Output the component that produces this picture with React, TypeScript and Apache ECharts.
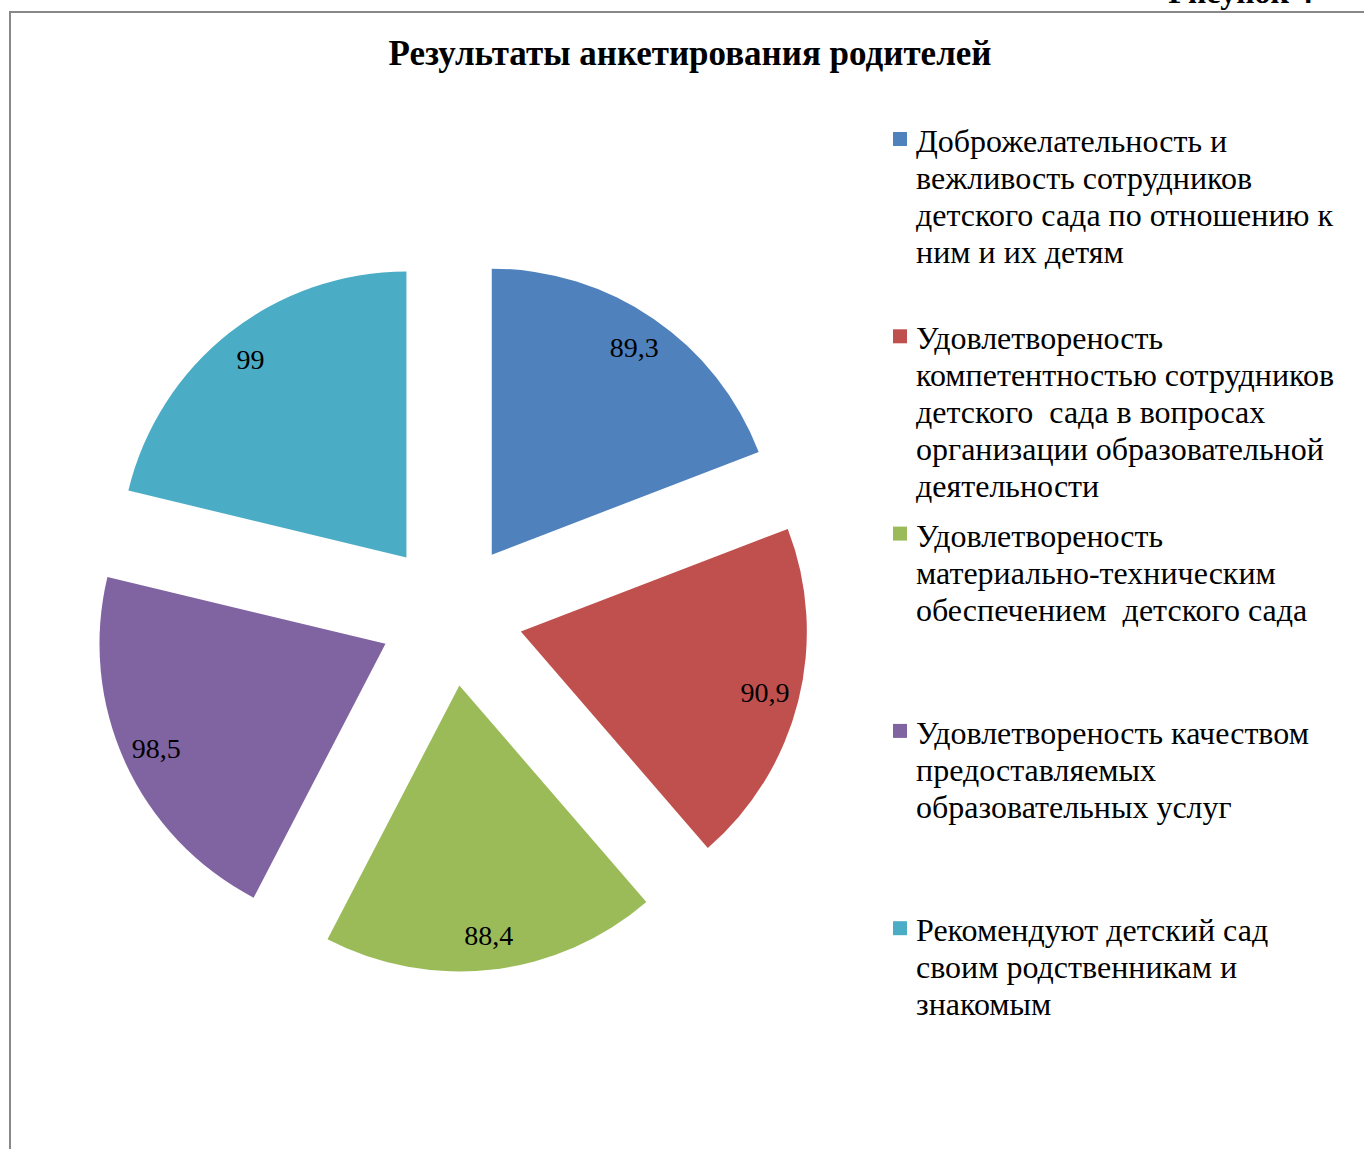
import React, { useEffect, useRef } from "react";
import * as echarts from "echarts";

const categories = [
  "Доброжелательность и вежливость сотрудников детского сада по отношению к ним и их детям",
  "Удовлетвореность компетентностью сотрудников детского  сада в вопросах организации образовательной деятельности",
  "Удовлетвореность материально-техническим обеспечением  детского сада",
  "Удовлетвореность качеством предоставляемых образовательных услуг",
  "Рекомендуют детский сад своим родственникам и знакомым",
];
const legendLines = [
  ["Доброжелательность и", "вежливость сотрудников", "детского сада по отношению к", "ним и их детям"],
  ["Удовлетвореность", "компетентностью сотрудников", "детского  сада в вопросах", "организации образовательной", "деятельности"],
  ["Удовлетвореность", "материально-техническим", "обеспечением  детского сада"],
  ["Удовлетвореность качеством", "предоставляемых", "образовательных услуг"],
  ["Рекомендуют детский сад", "своим родственникам и", "знакомым"],
];
const values = [89.3, 90.9, 88.4, 98.5, 99];
const colors = ["#4F81BD", "#C0504D", "#9BBB59", "#8064A2", "#4BACC6"];
const titleText = "Результаты анкетирования родителей";
const figureText = "Рисунок 4";

const FONT = "'Liberation Serif', 'Times New Roman', serif";

export default function App() {
  const ref = useRef<HTMLDivElement>(null);
  useEffect(() => {
    const chart = echarts.init(ref.current!, null, { renderer: "svg" });
    const center = [451, 614];
    const R = 286;
    const offset = 72;
    const pieData = values.map((v, i) => ({
      name: categories[i],
      value: v,
      selected: true,
      itemStyle: { color: colors[i] },
    }));
    const labelData = values.map((v, i) => ({
      name: categories[i],
      value: v,
      selected: true,
      itemStyle: { color: "rgba(0,0,0,0)" },
    }));

    const legendGraphics: any[] = [];
    const legendTop = 141;
    const legendStep = 197.3;
    const lineH = 37;
    legendLines.forEach((lines, i) => {
      const cy = legendTop + i * legendStep;
      legendGraphics.push({
        type: "rect",
        shape: { x: 893, y: cy - 9, width: 14, height: 14 },
        style: { fill: colors[i] },
        silent: true,
      });
      legendGraphics.push({
        type: "text",
        x: 916,
        y: cy - lineH / 2,
        style: {
          text: lines.join("\n"),
          font: `32px ${FONT}`,
          lineHeight: lineH,
          fill: "#000",
          textAlign: "left",
          textVerticalAlign: "top",
        },
        silent: true,
      });
    });

    chart.setOption({
      animation: false,
      backgroundColor: "#fff",
      graphic: [
        {
          type: "polyline",
          shape: { points: [[10, 1149], [10, 12], [1364, 12]] },
          style: { stroke: "#888", lineWidth: 2, fill: "none" },
          silent: true,
        },
        {
          type: "text",
          x: 1313,
          y: 8,
          style: {
            text: figureText,
            font: `bold 32px ${FONT}`,
            fill: "#000",
            textAlign: "right",
            textVerticalAlign: "bottom",
          },
          silent: true,
        },
        {
          type: "text",
          x: 690,
          y: 53,
          style: {
            text: titleText,
            font: `bold 35px ${FONT}`,
            fill: "#000",
            textAlign: "center",
            textVerticalAlign: "middle",
          },
          silent: true,
        },
        ...legendGraphics,
      ],
      series: [
        {
          type: "pie",
          center,
          radius: [0, R],
          startAngle: 90,
          clockwise: true,
          selectedMode: "multiple",
          selectedOffset: offset,
          avoidLabelOverlap: false,
          label: { show: false },
          labelLine: { show: false },
          emphasis: { disabled: true },
          silent: true,
          data: pieData,
        },
        {
          type: "pie",
          center,
          radius: [R * 0.74, R],
          startAngle: 90,
          clockwise: true,
          selectedMode: "multiple",
          selectedOffset: offset,
          avoidLabelOverlap: false,
          label: {
            show: true,
            position: "inside",
            formatter: (p: any) => String(p.value).replace(".", ","),
            color: "#000",
            fontFamily: FONT,
            fontSize: 28,
          },
          labelLine: { show: false },
          emphasis: { disabled: true },
          silent: true,
          data: labelData,
        },
      ],
    });
    return () => chart.dispose();
  }, []);
  return (
    <div
      ref={ref}
      style={{ position: "fixed", left: 0, top: 0, width: 1364, height: 1149 }}
    />
  );
}
